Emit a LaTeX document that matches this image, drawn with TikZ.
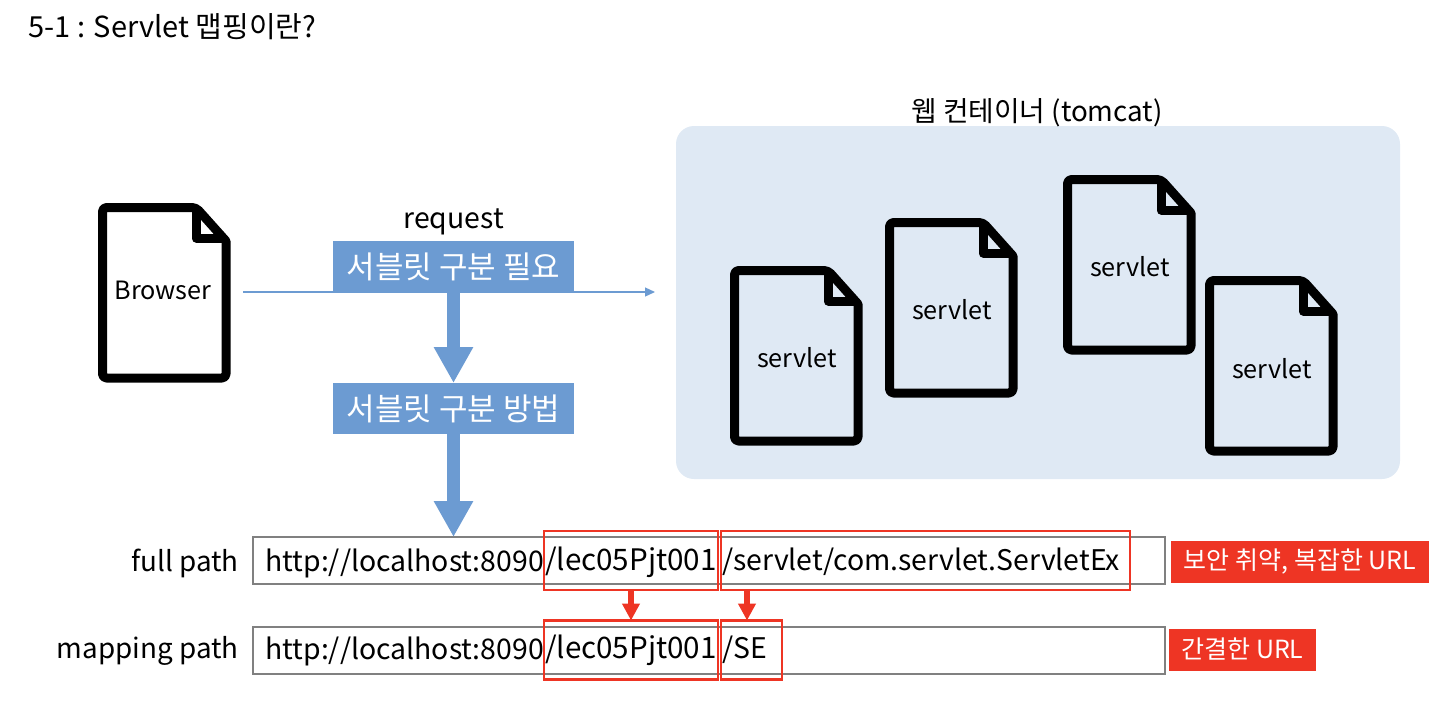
\documentclass[tikz,border=0pt]{standalone}
\usepackage{fontspec}
\setmainfont{Noto Sans CJK KR}
\usetikzlibrary{arrows.meta, positioning}
\definecolor{boxblue}{HTML}{6C9BD2}
\definecolor{wasblue}{HTML}{DFE9F4}
\definecolor{urlred}{HTML}{EE3524}
\definecolor{bargray}{HTML}{808080}
\begin{document}
\begin{tikzpicture}[
	x=.5pt, y=-.5pt,
	node distance=.25cm and 1.5cm,
	process/.style={rectangle, fill=boxblue, text=white, minimum width=120.5pt, minimum height=25.5pt, inner sep=0pt, outer sep=0pt, font=\fontsize{15.5}{18}\selectfont},
	tag/.style={rectangle, fill=urlred, text=white, minimum height=21pt, inner sep=0pt, outer sep=0pt, font=\fontsize{12.5}{15}\selectfont},
	bar/.style={rectangle, draw=bargray, line width=.7pt, minimum width=456pt, minimum height=23.5pt, inner sep=0pt, outer sep=0pt, anchor=north west},
	urlpart/.style={rectangle, draw=urlred, line width=1.2pt, minimum height=29.5pt, inner xsep=0pt, inner ysep=0pt, outer sep=0pt, anchor=west, align=left, text height=11pt, text depth=3pt, font=\fontsize{14.2}{17}\selectfont},
	urltext/.style={anchor=base west, inner sep=0pt, font=\fontsize{14.2}{17}\selectfont},
	caption/.style={inner sep=0pt, font=\fontsize{14.2}{17}\selectfont},
	pathlabel/.style={inner sep=0pt, font=\fontsize{13.9}{17}\selectfont},
	doclabel/.style={inner sep=0pt, font=\fontsize{12.6}{16}\selectfont},
	arrow/.style={-{Triangle[length=18pt, width=18.5pt]}, line width=6.5pt, draw=boxblue},
	redarrow/.style={-{Triangle[length=8.5pt, width=8.5pt]}, line width=3pt, draw=urlred},
	docfile/.pic={
		\draw[line width=4.5pt, line join=round, fill=white, fill opacity=#1] (4.5,4.5) [rounded corners=2pt] -- (98,4.5) [sharp corners] -- (128,38) [rounded corners=2pt] -- (128,175) -- (4.5,175) -- cycle;
		\draw[line width=4.5pt, line join=round] (98,4.5) -- (98,35) -- (128,35);
	},
	]

	\useasboundingbox (0,0) rectangle (1446,708);

	% Title
	\node (title) [anchor=west, inner sep=0pt, font=\fontsize{14.5}{17}\selectfont] at (28,27) {5-1 : Servlet 맵핑이란?};

	% Web container
	\node (was) [rectangle, rounded corners=9pt, fill=wasblue, minimum width=362pt, minimum height=176.5pt, anchor=north west, inner sep=0pt, outer sep=0pt] at (676,126) {};
	\node (waslabel) [pathlabel] at (1037,113) {웹 컨테이너 (tomcat)};

	% Documents
	\pic at (98,203) {docfile=1};
	\node (browser) [doclabel] at (163,290) {Browser};
	\foreach \name/\x/\y/\tx/\ty in {one/730/266/797/358, two/885/218/952/310, three/1063/175/1130/267, four/1205/276/1272/369}{
		\pic at (\x,\y) {docfile=0};
		\node (\name) [doclabel] at (\tx,\ty) {servlet};
	}

	% Request
	\coordinate (reqstart) at (243,292);
	\coordinate (reqend) at (655,292);
	\draw[-{Triangle[length=5pt, width=4.5pt]}, line width=.6pt, draw=boxblue] (reqstart) -- (reqend);
	\node (need) [process] at (453.5,266.5) {서블릿 구분 필요};
	\node (way) [process, below=45.5pt of need] {서블릿 구분 방법};
	\node (request) [caption, above=3pt of need] {request};

	% Paths
	\node (fullbar) [bar] at (253,537) {};
	\node (mapbar) [bar] at (253,627) {};
	\node (fulllabel) [pathlabel, left=7pt of fullbar, yshift=-1.5pt] {full path};
	\node (maplabel) [pathlabel, left=7pt of mapbar] {mapping path};
	\node (fullhost) [urltext] at (265,571) {http://localhost:8090};
	\node (maphost) [urltext] at (265,659) {http://localhost:8090};
	\node (fullpjt) [urlpart, text width=87pt, text height=12.5pt, font=\fontsize{14.8}{17}\selectfont] at (544,560.5) {\hspace{.5pt}/lec05Pjt001};
	\node (fullsrv) [urlpart, text width=204.5pt, text height=12.5pt] at (721,560.5) {\hspace{.5pt}/servlet/com.servlet.ServletEx};
	\node (mappjt) [urlpart, text width=87pt, font=\fontsize{14.8}{17}\selectfont] at (544,650) {\hspace{.5pt}/lec05Pjt001};
	\node (mapsrv) [urlpart, text width=30.5pt] at (721,650) {\hspace{.5pt}/SE};

	% Tags
	\node (fulltag) [tag, minimum width=129pt, anchor=west] at (1171,562) {보안 취약, 복잡한 URL};
	\node (maptag) [tag, minimum width=73.5pt, anchor=west] at (1169,649.5) {간결한 URL};

	% Arrows
	\draw[arrow] (need) -- (way);
	\draw[arrow] (way) -- (way |- fullbar.north);
	\draw[redarrow] (fullpjt.south -| 631,0) -- (mappjt.north -| 631,0);
	\draw[redarrow] (fullsrv.south -| 747,0) -- (mapsrv.north -| 747,0);
\end{tikzpicture}
\end{document}
